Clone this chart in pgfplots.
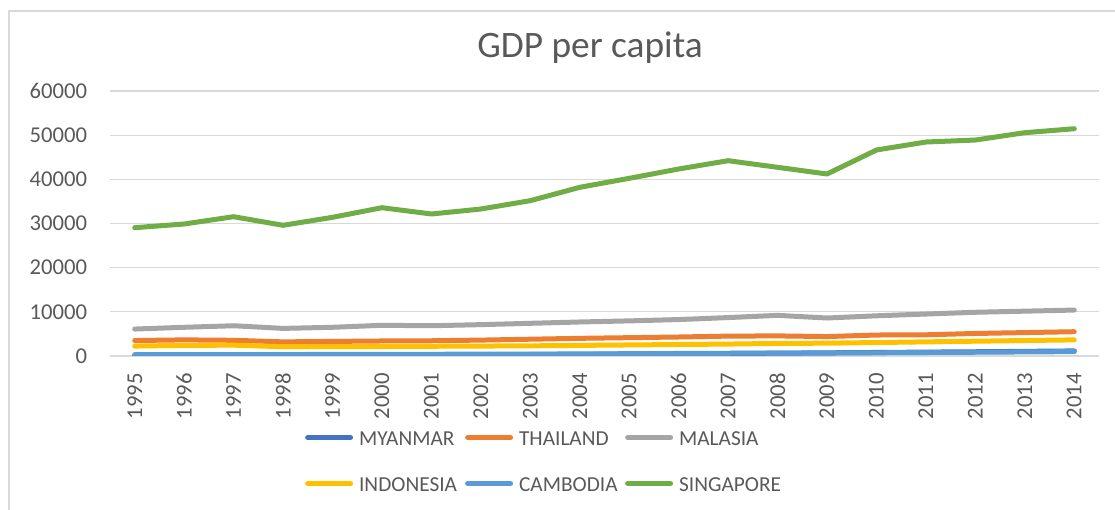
\documentclass[border=0pt]{standalone}
\usepackage{fontspec}
\setmainfont{Carlito}
\usepackage{pgfplots}
\pgfplotsset{compat=1.18}
\definecolor{txt}{HTML}{595959}
\definecolor{gridc}{HTML}{D9D9D9}
\definecolor{cMya}{HTML}{4472C4}
\definecolor{cTha}{HTML}{ED7D31}
\definecolor{cMal}{HTML}{A5A5A5}
\definecolor{cIdn}{HTML}{FFC000}
\definecolor{cKhm}{HTML}{5B9BD5}
\definecolor{cSgp}{HTML}{70AD47}
\newcommand{\legtxt}[1]{\makebox[75pt][l]{#1}}
\begin{document}
\begin{tikzpicture}
\path[use as bounding box] (0,0) rectangle (836.25pt,382.5pt);
\draw[gridc, line width=1pt] (6.75pt,0) -- (6.75pt,374.25pt) -- (840pt,374.25pt);
\node[font=\fontsize{28}{32}\selectfont, text=txt] at (442.5pt,346.5pt) {GDP per capita};
\begin{axis}[
  at={(82.5pt,115.5pt)}, anchor=south west,
  scale only axis, width=741.75pt, height=198.75pt,
  xmin=1994.5, xmax=2014.5, ymin=0, ymax=60000,
  xtick={1995,...,2014}, ytick={0,10000,...,60000},
  axis line style={draw=none}, major tick length=0pt,
  ymajorgrids, grid style={gridc, line width=1pt},
  scaled y ticks=false,
  /pgf/number format/1000 sep={},
  /pgf/number format/assume math mode=true,
  tick label style={font=\fontsize{17}{19}\selectfont, text=txt},
  yticklabel style={inner sep=0pt, anchor=east, xshift=-17pt},
  xticklabel style={yshift=-12.75pt, rotate=90, anchor=east, inner sep=0pt},
  every axis plot/.append style={line width=3.75pt, line cap=round, line join=round, no marks},
  legend columns=3,
  legend image code/.code={\draw[#1, line width=4pt, line cap=round] (0pt,0pt) -- (32pt,0pt);},
  legend style={at={(0.197,-0.277)}, anchor=north west, draw=none, fill=none,
    inner sep=0pt, column sep=4.5pt, row sep=22.5pt,
    font=\fontsize{16}{18}\selectfont, text=txt,
    nodes={inner sep=0pt, text height=12pt, text depth=0pt}},
]
\addplot[cMya] coordinates {(1995,150)(1996,170)(1997,190)(1998,200)(1999,220)(2000,240)(2001,270)(2002,300)(2003,340)(2004,380)(2005,430)(2006,490)(2007,560)(2008,640)(2009,720)(2010,800)(2011,880)(2012,960)(2013,1050)(2014,1150)};
\addplot[cTha] coordinates {(1995,3500)(1996,3650)(1997,3550)(1998,3200)(1999,3300)(2000,3400)(2001,3450)(2002,3600)(2003,3800)(2004,4000)(2005,4150)(2006,4300)(2007,4500)(2008,4550)(2009,4400)(2010,4750)(2011,4800)(2012,5100)(2013,5300)(2014,5500)};
\addplot[cMal] coordinates {(1995,6100)(1996,6500)(1997,6850)(1998,6250)(1999,6500)(2000,6950)(2001,6850)(2002,7100)(2003,7400)(2004,7700)(2005,7950)(2006,8250)(2007,8700)(2008,9200)(2009,8600)(2010,9100)(2011,9500)(2012,9900)(2013,10150)(2014,10400)};
\addplot[cIdn] coordinates {(1995,2250)(1996,2400)(1997,2450)(1998,2100)(1999,2100)(2000,2150)(2001,2200)(2002,2250)(2003,2300)(2004,2400)(2005,2500)(2006,2600)(2007,2700)(2008,2850)(2009,2900)(2010,3050)(2011,3200)(2012,3350)(2013,3500)(2014,3650)};
\addplot[cKhm] coordinates {(1995,300)(1996,320)(1997,330)(1998,330)(1999,350)(2000,370)(2001,390)(2002,410)(2003,430)(2004,470)(2005,520)(2006,570)(2007,620)(2008,670)(2009,670)(2010,720)(2011,790)(2012,850)(2013,920)(2014,990)};
\addplot[cSgp] coordinates {(1995,29050)(1996,29890)(1997,31540)(1998,29590)(1999,31400)(2000,33580)(2001,32150)(2002,33280)(2003,35170)(2004,38190)(2005,40230)(2006,42340)(2007,44220)(2008,42720)(2009,41210)(2010,46640)(2011,48450)(2012,48900)(2013,50560)(2014,51460)};
\legend{\legtxt{MYANMAR},\legtxt{THAILAND},\legtxt{MALASIA},\legtxt{INDONESIA},\legtxt{CAMBODIA},\legtxt{SINGAPORE}}
\end{axis}
\end{tikzpicture}
\end{document}
